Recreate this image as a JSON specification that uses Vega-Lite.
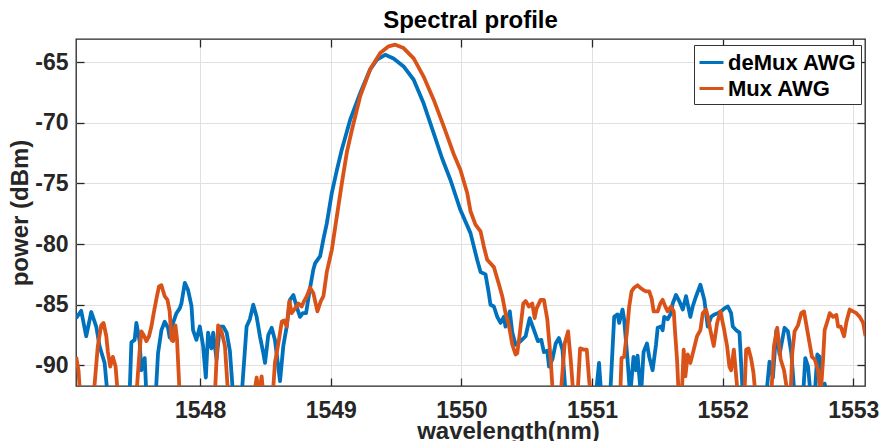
{
"$schema": "https://vega.github.io/schema/vega-lite/v6.json",
"width": 789, "height": 347,
"autosize": "none",
"padding": {"left": 76, "top": 39, "right": 15, "bottom": 55},
"background": "white",
"title": {"text": "Spectral profile", "font": "Liberation Sans", "fontSize": 24, "fontWeight": "bold", "color": "#000000", "frame": "group", "baseline": "alphabetic", "offset": 11, "dy": 25},
"config": {"view": {"stroke": "#262626", "strokeWidth": 1.3}},
"datasets": {
"demux": [
[1547.051,-86.1],[1547.090,-85.5],[1547.128,-87.6],[1547.167,-85.6],[1547.205,-86.8],[1547.230,-88.4],[1547.269,-89.8],[1547.292,-92.5],
[1547.460,-92.5],[1547.474,-88.1],[1547.499,-87.9],[1547.512,-86.5],[1547.537,-88.0],[1547.550,-90.4],[1547.576,-89.4],[1547.589,-92.5],
[1547.660,-92.5],[1547.678,-89.0],[1547.704,-87.1],[1547.729,-86.4],[1547.754,-86.9],[1547.767,-87.7],[1547.793,-86.5],[1547.819,-85.7],[1547.844,-85.3],[1547.857,-84.9],[1547.883,-83.2],[1547.908,-83.8],[1547.934,-85.1],[1547.946,-87.1],[1547.972,-87.9],[1547.998,-86.8],[1548.023,-88.4],[1548.044,-91.0],[1548.061,-87.3],[1548.087,-88.6],[1548.100,-87.3],[1548.126,-89.5],[1548.151,-86.8],[1548.177,-86.8],[1548.203,-87.3],[1548.228,-88.8],[1548.253,-92.5],
[1548.318,-92.5],[1548.356,-86.8],[1548.381,-86.2],[1548.407,-85.0],[1548.433,-86.0],[1548.458,-87.6],[1548.484,-89.0],[1548.497,-89.8],[1548.522,-87.5],[1548.548,-86.9],[1548.573,-87.9],[1548.612,-91.3],[1548.637,-88.4],[1548.663,-86.8],[1548.688,-84.6],[1548.714,-84.2],[1548.740,-85.2],[1548.765,-86.0],[1548.786,-85.7],[1548.811,-85.7],[1548.842,-83.6],[1548.867,-82.1],[1548.880,-81.6],[1548.919,-81.0],[1548.944,-79.6],[1548.970,-78.3],[1549.008,-75.8],[1549.047,-73.9],[1549.085,-72.2],[1549.149,-69.75],[1549.226,-67.55],[1549.302,-65.6],[1549.354,-64.8],[1549.417,-64.4],[1549.481,-64.7],[1549.558,-65.36],[1549.635,-66.46],[1549.711,-68.4],[1549.788,-70.85],[1549.853,-72.95],[1549.916,-74.7],[1549.993,-77.2],[1550.070,-79.1],[1550.121,-81.3],[1550.147,-82.3],[1550.185,-82.5],[1550.210,-84.05],[1550.223,-85.0],[1550.249,-85.15],[1550.275,-86.0],[1550.300,-86.5],[1550.325,-86.0],[1550.338,-86.8],[1550.371,-85.55],[1550.390,-87.3],[1550.415,-88.3],[1550.454,-88.0],[1550.492,-87.6],[1550.523,-86.1],[1550.556,-87.1],[1550.586,-88.0],[1550.612,-87.9],[1550.632,-88.9],[1550.658,-88.8],[1550.671,-90.1],[1550.697,-89.5],[1550.722,-88.2],[1550.747,-87.75],[1550.774,-88.7],[1550.799,-92.5],
[1551.029,-92.5],[1551.054,-89.8],[1551.071,-92.5],[1551.139,-92.5],[1551.170,-86.0],[1551.196,-85.8],[1551.208,-86.5],[1551.234,-85.4],[1551.246,-86.2],[1551.272,-89.5],[1551.292,-92.5],[1551.318,-89.3],[1551.336,-90.4],[1551.349,-89.2],[1551.375,-92.5],[1551.395,-88.9],[1551.421,-88.2],[1551.438,-89.3],[1551.464,-90.4],[1551.490,-88.3],[1551.503,-86.9],[1551.528,-86.8],[1551.541,-87.1],[1551.553,-86.0],[1551.579,-86.2],[1551.605,-85.7],[1551.618,-84.9],[1551.643,-84.2],[1551.668,-84.7],[1551.695,-85.4],[1551.720,-84.3],[1551.753,-86.0],[1551.771,-85.15],[1551.797,-84.3],[1551.830,-83.35],[1551.860,-84.6],[1551.886,-86.8],[1551.912,-86.0],[1551.937,-85.8],[1551.963,-85.7],[1551.988,-85.55],[1552.014,-85.3],[1552.040,-85.15],[1552.065,-85.7],[1552.078,-86.8],[1552.104,-87.1],[1552.129,-87.3],[1552.155,-92.5],
[1552.334,-92.5],[1552.359,-89.7],[1552.385,-91.0],[1552.411,-87.1],[1552.436,-89.1],[1552.474,-86.9],[1552.500,-87.2],[1552.526,-89.0],[1552.551,-92.5],[1552.616,-92.5],[1552.633,-89.4],[1552.654,-90.1],[1552.674,-92.5],[1552.705,-92.5],[1552.725,-89.1],[1552.743,-89.3],[1552.756,-92.5],[1552.781,-91.5],[1552.802,-92.5],[1553.101,-93.0]
],
"mux": [
[1547.051,-89.3],[1547.069,-90.4],[1547.082,-92.5],[1547.167,-92.5],[1547.192,-91.6],[1547.217,-88.4],[1547.243,-86.7],[1547.261,-86.5],[1547.282,-87.6],[1547.294,-88.9],[1547.312,-90.1],[1547.332,-89.3],[1547.353,-90.1],[1547.371,-92.5],
[1547.512,-92.5],[1547.532,-89.5],[1547.550,-87.2],[1547.568,-87.5],[1547.589,-88.0],[1547.609,-87.6],[1547.627,-86.8],[1547.645,-85.7],[1547.666,-84.5],[1547.685,-83.5],[1547.704,-83.4],[1547.729,-84.3],[1547.750,-84.6],[1547.767,-85.55],[1547.781,-87.9],[1547.793,-88.0],[1547.811,-86.7],[1547.823,-87.8],[1547.844,-92.5],
[1548.113,-92.5],[1548.138,-86.7],[1548.164,-87.2],[1548.190,-88.4],[1548.215,-92.5],
[1548.412,-92.5],[1548.433,-91.0],[1548.450,-92.5],[1548.471,-90.9],[1548.485,-92.5],
[1548.556,-92.5],[1548.573,-89.8],[1548.599,-88.2],[1548.625,-86.4],[1548.642,-86.3],[1548.663,-86.8],[1548.683,-84.7],[1548.701,-85.7],[1548.727,-85.3],[1548.752,-84.9],[1548.778,-85.15],[1548.796,-84.7],[1548.817,-84.3],[1548.842,-83.6],[1548.867,-84.05],[1548.898,-85.55],[1548.924,-84.7],[1548.944,-84.3],[1548.970,-82.3],[1549.008,-80.5],[1549.047,-77.7],[1549.085,-75.0],[1549.124,-72.4],[1549.162,-70.6],[1549.226,-67.8],[1549.302,-65.6],[1549.379,-64.26],[1549.443,-63.7],[1549.494,-63.57],[1549.558,-63.85],[1549.635,-64.7],[1549.711,-66.2],[1549.788,-68.1],[1549.865,-70.3],[1549.942,-72.6],[1549.993,-73.9],[1550.045,-75.8],[1550.070,-77.3],[1550.108,-78.4],[1550.147,-78.95],[1550.172,-80.2],[1550.198,-81.3],[1550.249,-81.9],[1550.287,-83.3],[1550.313,-84.3],[1550.338,-85.7],[1550.364,-86.7],[1550.390,-88.3],[1550.415,-89.1],[1550.428,-89.0],[1550.448,-87.3],[1550.474,-84.9],[1550.492,-84.7],[1550.517,-85.15],[1550.543,-84.9],[1550.561,-86.1],[1550.576,-85.3],[1550.607,-84.6],[1550.632,-84.6],[1550.658,-86.2],[1550.684,-89.5],[1550.701,-92.5],
[1550.760,-92.5],[1550.791,-88.2],[1550.817,-87.2],[1550.837,-89.5],[1550.858,-92.5],[1550.889,-92.5],[1550.909,-88.6],[1550.935,-88.7],[1550.960,-88.7],[1550.978,-91.2],[1550.991,-92.5],
[1551.216,-92.5],[1551.226,-89.4],[1551.246,-89.3],[1551.267,-87.3],[1551.285,-85.15],[1551.303,-83.9],[1551.323,-83.6],[1551.349,-83.4],[1551.369,-83.6],[1551.388,-83.75],[1551.413,-83.9],[1551.438,-83.9],[1551.457,-84.5],[1551.472,-85.55],[1551.503,-85.55],[1551.523,-84.9],[1551.541,-84.6],[1551.559,-85.1],[1551.579,-85.55],[1551.605,-85.15],[1551.626,-85.55],[1551.635,-87.1],[1551.651,-89.5],[1551.664,-92.5],[1551.687,-92.5],[1551.702,-88.7],[1551.715,-90.9],[1551.733,-89.1],[1551.753,-89.8],[1551.779,-88.7],[1551.804,-87.6],[1551.830,-87.1],[1551.848,-85.7],[1551.873,-85.4],[1551.891,-86.2],[1551.906,-87.1],[1551.932,-88.4],[1551.958,-86.5],[1551.983,-85.55],[1552.009,-86.9],[1552.034,-88.4],[1552.052,-90.1],[1552.065,-90.4],[1552.086,-88.7],[1552.104,-90.9],[1552.117,-92.5],
[1552.167,-92.5],[1552.180,-88.7],[1552.198,-88.6],[1552.219,-89.5],[1552.236,-90.6],[1552.252,-92.5],[1552.372,-92.5],[1552.393,-88.4],[1552.418,-86.9],[1552.444,-89.5],[1552.470,-90.4],[1552.500,-92.5],[1552.520,-92.5],[1552.533,-89.0],[1552.551,-87.2],[1552.577,-86.7],[1552.602,-85.7],[1552.623,-85.55],[1552.648,-87.1],[1552.666,-88.2],[1552.684,-89.3],[1552.705,-89.5],[1552.731,-90.4],[1552.750,-92.5],[1552.769,-89.5],[1552.781,-87.1],[1552.807,-86.2],[1552.820,-85.7],[1552.846,-86.0],[1552.871,-85.85],[1552.884,-86.8],[1552.904,-86.8],[1552.930,-87.6],[1552.948,-86.4],[1552.973,-85.4],[1552.999,-85.55],[1553.024,-85.7],[1553.050,-86.0],[1553.076,-86.5],[1553.094,-87.6]
]
},
"layer": [
{
"data": {"name": "demux"},
"transform": [{"calculate": "datum[0]", "as": "w"}, {"calculate": "datum[1]", "as": "p"}, {"calculate": "'deMux AWG'", "as": "s"}],
"mark": {"type": "line", "strokeWidth": 3.8, "strokeJoin": "round", "clip": true},
"encoding": {
"x": {"field": "w", "type": "quantitative", "scale": {"domain": [1547.05, 1553.09], "nice": false, "zero": false},
"axis": {"values": [1548, 1549, 1550, 1551, 1552, 1553], "labelExpr": "'' + datum.value", "labelFont": "Liberation Sans", "labelFontWeight": "bold", "labelFontSize": 23, "labelColor": "#262626", "tickSize": -8, "tickColor": "#262626", "tickWidth": 1.3, "labelPadding": 21, "domain": false, "grid": true, "gridColor": "#e0e0e0", "gridWidth": 1, "title": "wavelength(nm)", "titleFont": "Liberation Sans", "titleFontSize": 24, "titleFontWeight": "bold", "titleColor": "#262626", "titleX": 432, "titleY": 33, "titleBaseline": "top", "titleAlign": "center"}},
"y": {"field": "p", "type": "quantitative", "scale": {"domain": [-91.7, -63.1], "nice": false, "zero": false},
"axis": {"values": [-90, -85, -80, -75, -70, -65], "labelExpr": "'' + datum.value", "labelFont": "Liberation Sans", "labelFontWeight": "bold", "labelFontSize": 23, "labelColor": "#262626", "tickSize": -8, "tickColor": "#262626", "tickWidth": 1.3, "labelPadding": 16, "domain": false, "grid": true, "gridColor": "#e0e0e0", "gridWidth": 1, "title": "power (dBm)", "titleFont": "Liberation Sans", "titleFontSize": 24, "titleFontWeight": "bold", "titleColor": "#262626", "titleAngle": -90, "titleX": -49, "titleY": 173.5, "titleBaseline": "alphabetic", "titleAlign": "center"}},
"color": {"field": "s", "type": "nominal", "scale": {"domain": ["deMux AWG", "Mux AWG"], "range": ["#0072BD", "#D95319"]},
"legend": {"orient": "none", "legendX": 618, "legendY": 6, "title": null, "symbolType": "stroke", "symbolSize": 576, "symbolStrokeWidth": 3, "labelFont": "Liberation Sans", "labelFontSize": 22, "labelFontWeight": "bold", "labelColor": "#000000", "fillColor": "white", "strokeColor": "#333333", "padding": 4, "rowPadding": 1, "labelOffset": 3, "cornerRadius": 0}}
}
},
{
"data": {"name": "mux"},
"transform": [{"calculate": "datum[0]", "as": "w"}, {"calculate": "datum[1]", "as": "p"}, {"calculate": "'Mux AWG'", "as": "s"}],
"mark": {"type": "line", "strokeWidth": 3.8, "strokeJoin": "round", "clip": true},
"encoding": {
"x": {"field": "w", "type": "quantitative", "axis": {"orient": "top", "values": [1548, 1549, 1550, 1551, 1552, 1553], "labels": false, "tickSize": -8, "tickColor": "#262626", "tickWidth": 1.3, "domain": false, "grid": false, "title": null}},
"y": {"field": "p", "type": "quantitative", "axis": {"orient": "right", "values": [-90, -85, -80, -75, -70, -65], "labels": false, "tickSize": -8, "tickColor": "#262626", "tickWidth": 1.3, "domain": false, "grid": false, "title": null}},
"color": {"field": "s", "type": "nominal"}
}
}
],
"resolve": {"axis": {"x": "independent", "y": "independent"}}
}
